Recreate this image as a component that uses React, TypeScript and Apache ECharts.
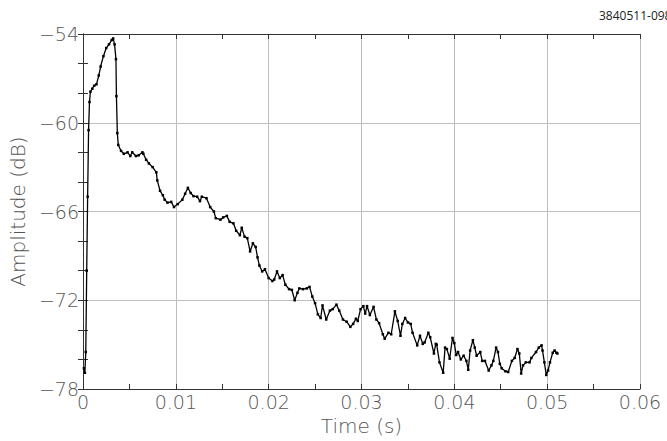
import React, { useEffect, useRef } from "react";
import * as echarts from "echarts";

const times: number[] = [
  0.0001, 0.0002, 0.0003, 0.0004, 0.0005, 0.0006, 0.0007, 0.0008, 0.001, 0.0012,
  0.00145, 0.0017, 0.0019, 0.0022, 0.0025, 0.0028, 0.0031, 0.00325, 0.0034, 0.00355,
  0.0036, 0.0037, 0.0038, 0.0041, 0.0044, 0.0048, 0.0051, 0.0053, 0.0057, 0.006,
  0.0064, 0.0065, 0.0068, 0.0071, 0.0075, 0.0079, 0.008, 0.0083, 0.0086, 0.0088,
  0.0091, 0.0095, 0.0098, 0.0102, 0.0107, 0.011, 0.0113, 0.0116, 0.0119, 0.0123,
  0.0126, 0.0128, 0.0133, 0.0137, 0.0141, 0.0143, 0.0148, 0.0151, 0.0155, 0.0158,
  0.0162, 0.0165, 0.0169, 0.0171, 0.0174, 0.0177, 0.018, 0.0183, 0.0186, 0.0188,
  0.019, 0.0193, 0.0196, 0.02, 0.0204, 0.0206, 0.0209, 0.0212, 0.0215, 0.0218,
  0.0222, 0.0225, 0.0228, 0.0231, 0.0233, 0.0237, 0.0241, 0.0244, 0.0247, 0.025,
  0.0253, 0.0256, 0.0258, 0.0262, 0.0266, 0.0269, 0.0273, 0.0276, 0.028, 0.0284,
  0.0288, 0.0291, 0.0294, 0.0296, 0.0299, 0.0302, 0.0304, 0.0306, 0.0309, 0.0313,
  0.0316, 0.0319, 0.0323, 0.0325, 0.0329, 0.0332, 0.0336, 0.0339, 0.0342, 0.0344,
  0.0347, 0.035, 0.0353, 0.0355, 0.036, 0.0363, 0.0366, 0.0368, 0.0372, 0.0374,
  0.0378, 0.038, 0.0381, 0.0384, 0.0388, 0.039, 0.0392, 0.0395, 0.0398, 0.04,
  0.0402, 0.0404, 0.0407, 0.041, 0.0413, 0.0415, 0.0417, 0.042, 0.0422, 0.0424,
  0.0428, 0.043, 0.0433, 0.0437, 0.044, 0.0442, 0.0445, 0.0447, 0.0449, 0.0451,
  0.0455, 0.0458, 0.0462, 0.0465, 0.0468, 0.047, 0.0472, 0.0474, 0.0477, 0.0481,
  0.0483, 0.0488, 0.0491, 0.0494, 0.0495, 0.0497, 0.0499, 0.0501, 0.0503, 0.0506,
  0.0508, 0.051, 0.0511,
];

const amplitudes: number[] = [
  -76.6, -76.9, -75.5, -70.0, -65.0, -60.5, -58.6, -57.9, -57.7, -57.5,
  -57.4, -56.8, -56.2, -55.5, -54.95, -54.7, -54.4, -54.3, -54.7, -55.7,
  -58.2, -60.7, -61.5, -61.9, -62.1, -62.0, -62.25, -62.0, -62.25, -62.2,
  -62.0, -62.1, -62.5, -62.75, -63.0, -63.35, -63.9, -64.6, -64.9, -65.2,
  -65.4, -65.35, -65.7, -65.5, -65.2, -64.8, -64.4, -64.75, -64.96, -65.0,
  -65.3, -65.0, -65.1, -65.7, -66.0, -66.45, -66.55, -66.4, -66.3, -66.7,
  -66.8, -67.3, -67.6, -67.1, -67.7, -67.8, -68.7, -68.15, -68.4, -69.1,
  -69.65, -70.05, -69.9, -70.5, -70.7, -70.6, -70.05, -70.5, -70.3, -70.95,
  -71.25, -71.3, -72.0, -71.5, -71.2, -71.25, -71.2, -71.1, -71.75, -72.2,
  -72.95, -73.2, -72.35, -73.3, -72.7, -72.6, -72.3, -72.7, -73.3, -73.45,
  -73.8, -73.6, -73.25, -73.4, -72.6, -72.4, -72.9, -72.4, -73.0, -72.45,
  -73.3, -73.55, -74.3, -74.6, -74.2, -74.3, -72.75, -73.4, -74.4, -73.6,
  -73.2, -73.5, -73.6, -74.2, -75.05, -74.4, -74.95, -74.85, -74.2, -74.5,
  -75.6, -74.95, -75.0, -76.2, -76.9, -75.2, -75.3, -75.95, -74.55, -74.9,
  -75.7, -75.5, -76.0, -75.75, -76.1, -76.7, -75.4, -74.7, -75.2, -75.75,
  -75.5, -76.1, -76.1, -76.75, -76.4, -76.1, -75.2, -75.5, -76.3, -76.6,
  -76.8, -76.85, -76.1, -75.9, -75.3, -75.6, -76.95, -76.4, -76.2, -76.2,
  -75.9, -75.5, -75.2, -75.05, -75.4, -76.2, -77.05, -76.75, -76.2, -75.55,
  -75.4, -75.55, -75.6,
];

const xTicks: number[] = [0, 0.01, 0.02, 0.03, 0.04, 0.05, 0.06];
const yTicks: number[] = [-78, -72, -66, -60, -54];
const xTitle = "Time (s)";
const yTitle = "Amplitude (dB)";
const figureId = "3840511-098";

const FONT = "DejaVu Sans";
const LABEL_COLOR = "#555";
const AXIS_COLOR = "#333";

function fmtX(v: number): string {
  if (Math.abs(v) < 1e-9) return "0";
  return v.toFixed(2);
}
function fmtY(v: number): string {
  return v < 0 ? "\u2212" + Math.abs(Math.round(v)) : String(Math.round(v));
}

export default function App() {
  const ref = useRef<HTMLDivElement>(null);
  useEffect(() => {
    if (!ref.current) return;
    const chart = echarts.init(ref.current, undefined, { renderer: "svg" });
    const data = times.map((t, i) => [t, amplitudes[i]]);
    const xMin = xTicks[0];
    const xMax = xTicks[xTicks.length - 1];
    const xInt = xTicks[1] - xTicks[0];
    const yMin = yTicks[0];
    const yMax = yTicks[yTicks.length - 1];
    const yInt = yTicks[1] - yTicks[0];
    const tickCommon = {
      axisLine: { show: true, lineStyle: { color: AXIS_COLOR, width: 1 } },
      axisTick: { show: true, inside: true, length: 5, lineStyle: { color: AXIS_COLOR } },
    };
    const labelStyle = {
      fontFamily: FONT,
      fontWeight: 200,
      fontSize: 19,
      color: LABEL_COLOR,
    };
    chart.setOption({
      animation: false,
      backgroundColor: "#fff",
      grid: { left: 82, right: 27, top: 34, bottom: 45 },
      graphic: [
        {
          type: "text",
          left: 599,
          top: 9,
          style: {
            text: figureId,
            fontSize: 12,
            fontFamily: "Open Sans",
            fill: "#222",
          },
        },
      ],
      xAxis: [
        {
          type: "value",
          min: xMin,
          max: xMax,
          interval: xInt,
          position: "bottom",
          name: xTitle,
          nameLocation: "middle",
          nameGap: 27,
          nameTextStyle: { ...labelStyle, fontSize: 20 },
          ...tickCommon,
          minorTick: { show: true, splitNumber: 2, length: 5, lineStyle: { color: AXIS_COLOR } },
          axisLabel: {
            ...labelStyle,
            formatter: fmtX,
            margin: 3,
            showMinLabel: true,
            showMaxLabel: true,
          },
          splitLine: { show: true, lineStyle: { color: "#bdbdbd", width: 1 } },
        },
        {
          type: "value",
          min: xMin,
          max: xMax,
          interval: xInt,
          position: "top",
          ...tickCommon,
          minorTick: { show: true, splitNumber: 2, length: 5, lineStyle: { color: AXIS_COLOR } },
          axisLabel: { show: false },
          splitLine: { show: false },
        },
      ],
      yAxis: [
        {
          type: "value",
          min: yMin,
          max: yMax,
          interval: yInt,
          position: "left",
          name: yTitle,
          nameLocation: "middle",
          nameGap: 49,
          nameTextStyle: { ...labelStyle, fontSize: 20 },
          ...tickCommon,
          minorTick: { show: true, splitNumber: 3, length: 5, lineStyle: { color: AXIS_COLOR } },
          axisLabel: {
            ...labelStyle,
            formatter: fmtY,
            margin: 4,
            showMinLabel: true,
            showMaxLabel: true,
          },
          splitLine: { show: true, lineStyle: { color: "#bdbdbd", width: 1 } },
        },
        {
          type: "value",
          min: yMin,
          max: yMax,
          interval: yInt,
          position: "right",
          ...tickCommon,
          minorTick: { show: true, splitNumber: 3, length: 5, lineStyle: { color: AXIS_COLOR } },
          axisLabel: { show: false },
          splitLine: { show: false },
        },
      ],
      series: [
        {
          type: "line",
          xAxisIndex: 0,
          yAxisIndex: 0,
          data,
          showSymbol: true,
          symbol: "rect",
          symbolSize: 2.5,
          itemStyle: { color: "#000" },
          lineStyle: { color: "#000", width: 1.3 },
        },
      ],
    });
    return () => chart.dispose();
  }, []);
  return (
    <div
      ref={ref}
      style={{ position: "fixed", left: 0, top: 0, width: 667, height: 441 }}
    />
  );
}
